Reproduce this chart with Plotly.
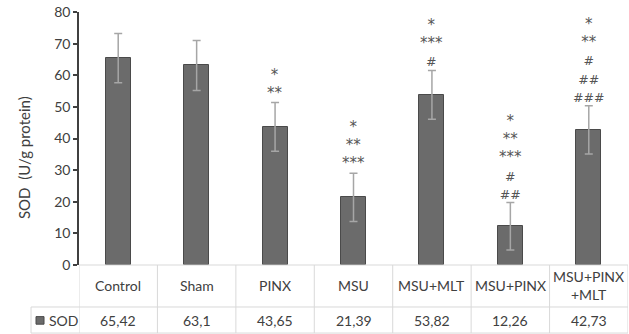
import plotly.graph_objects as go

# SOD activity per experimental group
groups = ["Control", "Sham", "PINX", "MSU", "MSU+MLT", "MSU+PINX", "MSU+PINX+MLT"]
header_labels = ["Control", "Sham", "PINX", "MSU", "MSU+MLT", "MSU+PINX", "MSU+PINX<br>+MLT"]
sod = [65.42, 63.1, 43.65, 21.39, 53.82, 12.26, 42.73]
sod_err = [7.8, 7.9, 7.7, 7.6, 7.7, 7.5, 7.6]
significance = [
    [],
    [],
    ["*", "**"],
    ["*", "**", "***"],
    ["*", "***", "#"],
    ["*", "**", "***", "#", "##"],
    ["*", "**", "#", "##", "###"],
]
y_ticks = [0, 10, 20, 30, 40, 50, 60, 70, 80]

FONT = "Lato, Carlito, 'Liberation Sans', sans-serif"
MARK_FONT = "'DejaVu Sans', sans-serif"
TEXT = "#404040"
MARK = "#555555"
GRID = "#d9d9d9"
BAR = "#6b6b6b"
BAR_EDGE = "#4a4a4a"

xs = list(range(len(groups)))

fig = go.Figure()
fig.add_trace(go.Bar(
    x=xs, y=sod, width=0.32,
    marker=dict(color=BAR, line=dict(color=BAR_EDGE, width=1)),
    error_y=dict(type="data", array=sod_err, visible=True,
                 color="#a6a6a6", thickness=1.5, width=4),
    name="SOD", showlegend=False,
))


def mark_line(m):
    # asterisks are set a little larger than the hash signs
    size = 15 if m.startswith("*") else 12.5
    return f'<span style="font-size:{size}px">{m}</span>'


annotations = []
# significance marks stacked above each error bar
for x, v, e, marks in zip(xs, sod, sod_err, significance):
    if marks:
        annotations.append(dict(
            x=x, y=v + e, xref="x", yref="y", yanchor="bottom",
            text="<br>".join(mark_line(m) for m in marks), showarrow=False,
            font=dict(family=MARK_FONT, size=14, color=MARK), yshift=0,
            borderpad=0,
        ))

# data table under the axis: group names and values
HEADER_Y = -0.083
VALUE_Y = -0.219
for x, lab, v in zip(xs, header_labels, sod):
    annotations.append(dict(
        x=x, y=HEADER_Y, xref="x", yref="paper", text=lab, showarrow=False,
        font=dict(family=FONT, size=14, color=TEXT), yanchor="middle",
    ))
    annotations.append(dict(
        x=x, y=VALUE_Y, xref="x", yref="paper",
        text=f"{v:g}".replace(".", ","), showarrow=False,
        font=dict(family=FONT, size=14, color=TEXT), yanchor="middle",
    ))
annotations.append(dict(
    x=-0.058, y=VALUE_Y, xref="paper", yref="paper", text="SOD", showarrow=False,
    xanchor="left", font=dict(family=FONT, size=14, color=TEXT), yanchor="middle",
))
# y axis title
annotations.append(dict(
    x=-0.1, y=0.423, xref="paper", yref="paper", text="SOD  (U/g protein)",
    textangle=-90, showarrow=False, xanchor="center", yanchor="middle",
    font=dict(family=FONT, size=15, color=TEXT),
))

ROW1_BOTTOM = -0.166
TABLE_BOTTOM = -0.269
LEFT_CELL = -0.0874
line = dict(color=GRID, width=1)
shapes = []
# horizontal rules
shapes.append(dict(type="line", xref="paper", yref="paper", x0=0, x1=1, y0=0, y1=0, line=line))
shapes.append(dict(type="line", xref="paper", yref="paper", x0=LEFT_CELL, x1=1,
                   y0=ROW1_BOTTOM, y1=ROW1_BOTTOM, line=line))
shapes.append(dict(type="line", xref="paper", yref="paper", x0=LEFT_CELL, x1=1,
                   y0=TABLE_BOTTOM, y1=TABLE_BOTTOM, line=line))
# vertical rules at the group boundaries
for k in range(len(groups) + 1):
    shapes.append(dict(type="line", xref="x", yref="paper", x0=k - 0.5, x1=k - 0.5,
                       y0=0, y1=TABLE_BOTTOM, line=line))
shapes.append(dict(type="line", xref="paper", yref="paper", x0=LEFT_CELL, x1=LEFT_CELL,
                   y0=ROW1_BOTTOM, y1=TABLE_BOTTOM, line=line))
# legend key in the value row
shapes.append(dict(type="rect", xref="paper", yref="paper",
                   x0=-0.0783, x1=-0.0637, y0=VALUE_Y - 0.015, y1=VALUE_Y + 0.015,
                   fillcolor=BAR, line=dict(color=BAR_EDGE, width=1)))

fig.update_layout(
    width=629, height=334,
    margin=dict(l=79, r=1, t=12, b=69),
    paper_bgcolor="white", plot_bgcolor="white",
    font=dict(family=FONT, size=14, color=TEXT),
    xaxis=dict(range=[-0.5, 6.5], showticklabels=False, showgrid=False,
               zeroline=False, showline=False, ticks=""),
    yaxis=dict(range=[0, 80], tickvals=y_ticks, showgrid=False, zeroline=False,
               showline=True, linecolor="#404040", linewidth=1.5,
               ticks="outside", ticklen=4, tickcolor="#404040", tickwidth=1.5,
               tickfont=dict(family=FONT, size=14, color=TEXT)),
    annotations=annotations, shapes=shapes, bargap=0,
)

fig.write_html("out.html")
